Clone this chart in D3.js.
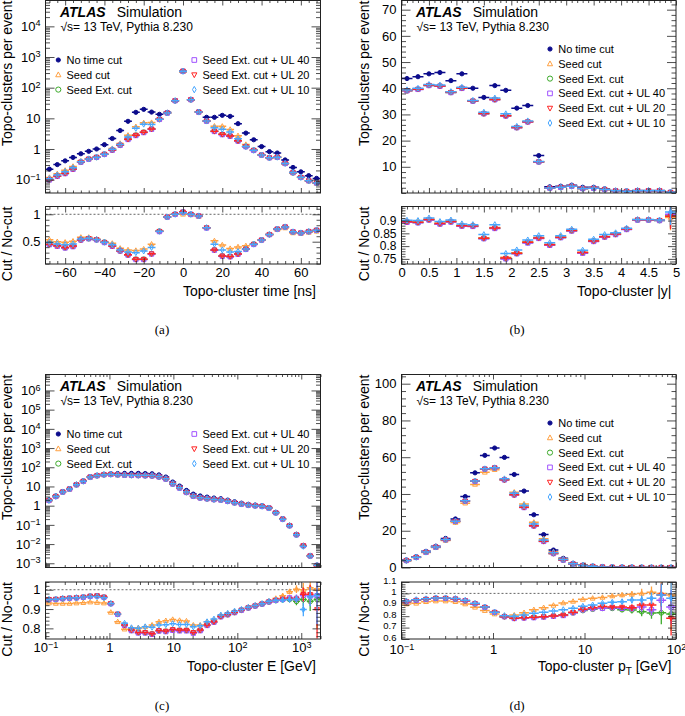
<!DOCTYPE html>
<html><head><meta charset="utf-8">
<script src="https://cdn.jsdelivr.net/npm/d3@7"></script>
<style>
body{margin:0;background:#fff;}
svg text{font-family:"Liberation Sans",Arial,Helvetica,sans-serif;}
svg text.caption{font-family:"Liberation Serif","Times New Roman",serif;}
</style></head><body>
<svg id="chart" width="685" height="716"></svg>
<script>
// ---------------- data ----------------
const seriesNames = ["No time cut","Seed cut","Seed Ext. cut","Seed Ext. cut + UL 40","Seed Ext. cut + UL 20","Seed Ext. cut + UL 10"];

// (a) topo-cluster time, 4 ns bins from -70 to 70
const timeNoCut = [0.22,0.31,0.41,0.53,0.7,0.84,1.0,1.38,2.2,4.0,8.0,15.7,19.6,16.0,13.5,15.7,37.7,333,40.7,16.5,10.8,10.8,12.5,11.6,6.7,3.3,2.0,1.2,0.82,0.74,0.44,0.25,0.18,0.135,0.11];
const timeSeed = [0.535,0.50,0.49,0.51,0.58,0.58,0.55,0.50,0.47,0.38,0.35,0.34,0.365,0.455,0.70,0.95,1.0,1.0,0.99,0.96,0.755,0.515,0.44,0.375,0.405,0.425,0.46,0.53,0.63,0.72,0.75,0.66,0.65,0.67,0.69];
const timeExt = [0.45,0.42,0.39,0.415,0.53,0.555,0.535,0.49,0.42,0.33,0.26,0.18,0.18,0.28,0.69,0.95,1.0,1.04,1.0,0.97,0.755,0.35,0.24,0.23,0.275,0.365,0.455,0.53,0.63,0.73,0.77,0.68,0.66,0.685,0.71];
const timeUL40 = [0.445,0.415,0.385,0.41,0.53,0.555,0.535,0.485,0.415,0.33,0.255,0.175,0.175,0.275,0.685,0.95,1.0,1.04,1.0,0.97,0.75,0.345,0.235,0.225,0.27,0.36,0.45,0.53,0.63,0.73,0.77,0.68,0.66,0.685,0.71];
const timeUL20 = [0.455,0.425,0.395,0.42,0.535,0.56,0.54,0.49,0.42,0.335,0.26,0.18,0.18,0.28,0.69,0.95,1.0,1.04,1.0,0.97,0.755,0.35,0.24,0.23,0.275,0.365,0.455,0.53,0.63,0.73,0.77,0.68,0.66,0.685,0.71];
const timeUL10 = [0.486,0.46,0.445,0.46,0.55,0.565,0.54,0.49,0.445,0.35,0.31,0.30,0.33,0.395,0.69,0.95,1.0,1.03,1.0,0.97,0.755,0.455,0.35,0.31,0.32,0.365,0.455,0.53,0.63,0.73,0.77,0.68,0.66,0.685,0.71];

// (b) topo-cluster |y|, 0.2 bins from 0 to 5
const rapNoCut = [43.7,44.4,45.5,46.0,42.9,45.5,40.0,36.5,41.0,39.2,32.4,33.4,14.3,2.35,2.6,3.0,2.2,2.2,1.6,1.0,0.75,1.0,1.0,1.0,0.3];
const rapSeed = [0.897,0.895,0.905,0.890,0.898,0.882,0.881,0.833,0.873,0.756,0.774,0.817,0.834,0.807,0.836,0.862,0.776,0.821,0.838,0.848,0.868,0.904,0.903,0.902,0.912];
const rapExt  = [0.894,0.892,0.903,0.887,0.895,0.879,0.878,0.830,0.870,0.752,0.771,0.814,0.831,0.804,0.834,0.860,0.774,0.819,0.836,0.846,0.866,0.902,0.902,0.900,0.922];
const rapUL40 = [0.893,0.891,0.902,0.886,0.894,0.878,0.877,0.829,0.869,0.750,0.770,0.812,0.830,0.803,0.833,0.859,0.772,0.818,0.835,0.845,0.865,0.902,0.902,0.900,0.925];
const rapUL20 = [0.895,0.893,0.904,0.888,0.896,0.880,0.879,0.831,0.871,0.753,0.772,0.815,0.832,0.805,0.835,0.861,0.775,0.820,0.837,0.847,0.867,0.903,0.903,0.901,0.917];
const rapUL10 = [0.901,0.900,0.910,0.896,0.902,0.887,0.884,0.845,0.884,0.771,0.785,0.824,0.841,0.813,0.841,0.866,0.784,0.827,0.845,0.852,0.870,0.904,0.904,0.902,0.933];
const rapErr  = [0.004,0.004,0.004,0.004,0.004,0.004,0.004,0.004,0.004,0.004,0.004,0.004,0.004,0.004,0.004,0.004,0.004,0.004,0.004,0.004,0.004,0.004,0.004,0.006,0.05];

// (c) topo-cluster E, 40 log bins from 0.1 to 2000 GeV
const eNoCut = [1.98,3.2,5.4,7.7,12.9,19.4,32,38,43,46,47,48,48,48,47,46,40,31,17,10.5,6.2,4.0,3.2,2.8,2.5,2.3,1.95,1.6,1.35,1.18,1.08,1.0,0.8,0.45,0.21,0.095,0.032,0.0085,0.0025,0.0008];
const eSeed = [0.931,0.929,0.929,0.929,0.931,0.933,0.936,0.934,0.931,0.883,0.834,0.796,0.800,0.803,0.808,0.817,0.834,0.840,0.846,0.841,0.838,0.817,0.817,0.834,0.843,0.865,0.875,0.886,0.897,0.909,0.919,0.929,0.941,0.955,0.969,0.990,1.003,1.000,1.010,1.005];
const eExt  = [0.949,0.950,0.954,0.956,0.958,0.961,0.966,0.968,0.961,0.928,0.873,0.816,0.790,0.778,0.778,0.771,0.788,0.785,0.793,0.790,0.790,0.778,0.790,0.816,0.833,0.861,0.871,0.882,0.894,0.906,0.916,0.926,0.937,0.944,0.948,0.950,0.940,0.950,0.940,0.950];
const eUL40 = [0.949,0.950,0.954,0.956,0.958,0.961,0.966,0.968,0.961,0.928,0.873,0.815,0.788,0.776,0.776,0.769,0.786,0.783,0.790,0.787,0.787,0.775,0.788,0.815,0.832,0.860,0.871,0.882,0.894,0.906,0.916,0.926,0.937,0.945,0.950,0.958,0.955,0.972,0.967,0.969];
const eUL20 = [0.950,0.951,0.955,0.957,0.959,0.962,0.967,0.969,0.962,0.929,0.874,0.817,0.791,0.779,0.779,0.772,0.789,0.786,0.794,0.791,0.791,0.779,0.791,0.817,0.834,0.862,0.872,0.883,0.895,0.907,0.917,0.927,0.938,0.946,0.952,0.952,0.952,0.976,0.976,0.898];
const eUL10 = [0.950,0.951,0.955,0.957,0.959,0.962,0.965,0.965,0.958,0.929,0.874,0.826,0.803,0.800,0.808,0.806,0.817,0.819,0.824,0.820,0.820,0.808,0.813,0.834,0.848,0.869,0.878,0.889,0.898,0.909,0.919,0.928,0.940,0.946,0.947,0.950,0.952,0.898,0.964,0.972];
const eErr  = [0.003,0.003,0.003,0.003,0.003,0.003,0.003,0.003,0.003,0.003,0.003,0.003,0.003,0.003,0.003,0.003,0.003,0.003,0.003,0.003,0.003,0.003,0.003,0.003,0.003,0.003,0.003,0.003,0.003,0.003,0.004,0.005,0.006,0.008,0.010,0.015,0.020,0.035,0.050,0.150];

// (d) topo-cluster pT, 28 log bins from 0.1 to 100 GeV
const ptNoCut = [4.1,5.9,8.8,11.6,15.8,26.4,38.6,51.5,61.0,65.0,59.9,50.6,41.6,28.7,17.9,9.5,5.0,2.3,1.3,0.7,0.35,0.2,0.1,0.07,0.04,0.02,0.012,0.007];
const ptSeed = [0.907,0.913,0.927,0.933,0.933,0.927,0.907,0.878,0.849,0.819,0.805,0.810,0.831,0.857,0.875,0.895,0.916,0.930,0.948,0.957,0.965,0.977,0.986,0.992,1.000,1.010,1.000,0.986];
const ptExt  = [0.927,0.939,0.948,0.957,0.957,0.951,0.936,0.910,0.878,0.834,0.796,0.781,0.787,0.790,0.796,0.802,0.810,0.830,0.850,0.862,0.869,0.869,0.857,0.854,0.840,0.828,0.830,0.820];
const ptUL40 = [0.927,0.939,0.948,0.957,0.957,0.951,0.936,0.910,0.878,0.834,0.796,0.780,0.784,0.787,0.792,0.799,0.806,0.830,0.855,0.866,0.869,0.875,0.869,0.869,0.880,0.857,0.940,0.880];
const ptUL20 = [0.927,0.939,0.948,0.957,0.957,0.951,0.936,0.910,0.878,0.834,0.796,0.781,0.787,0.790,0.796,0.802,0.810,0.834,0.860,0.875,0.884,0.880,0.880,0.875,0.898,0.898,0.986,0.781];
const ptUL10 = [0.933,0.945,0.952,0.960,0.960,0.955,0.940,0.913,0.880,0.834,0.805,0.799,0.810,0.825,0.834,0.846,0.857,0.869,0.887,0.898,0.913,0.922,0.927,0.942,0.942,0.957,0.986,0.957];
const ptErr  = [0.003,0.003,0.003,0.003,0.003,0.003,0.003,0.003,0.003,0.003,0.003,0.003,0.003,0.003,0.003,0.003,0.003,0.005,0.006,0.008,0.010,0.015,0.020,0.030,0.040,0.050,0.100,0.150];

// tick labels
const timeTicks = [-60,-40,-20,0,20,40,60];
const rapTicks = [0,0.5,1,1.5,2,2.5,3,3.5,4,4.5,5];
const rapMainTicks = [10,20,30,40,50,60,70];
const rapRatioTicks = [0.75,0.8,0.85,0.9];
const timeRatioTicks = [0.5,1];
const eRatioTicks = [0.8,0.9,1];
const ptMainTicks = [0,20,40,60,80,100];
const ptRatioTicks = [0.6,0.7,0.8,0.9,1,1.1];

// ---------------- style ----------------
const seriesColors = ["#0b0b8c","#ffa040","#3caa2a","#a052ff","#ff2424","#46a6ff"];
const seriesSymbols = ["dot","tri","circ","sq","tridown","diam"];
const FONT = '"Liberation Sans", Arial, Helvetica, sans-serif';
const svg = d3.select("#chart");
const defs = svg.append("defs");

function symPath(type, r){
  switch(type){
    case "dot": case "circ": return d3.symbol(d3.symbolCircle, Math.PI*r*r)();
    case "tri": return `M0,${-r*1.1}L${r},${r*0.75}L${-r},${r*0.75}Z`;
    case "tridown": return `M0,${r*1.1}L${r},${-r*0.75}L${-r},${-r*0.75}Z`;
    case "sq": return `M${-r*0.9},${-r*0.9}h${1.8*r}v${1.8*r}h${-1.8*r}Z`;
    case "diam": return `M0,${-r*1.25}L${r*0.7},0L0,${r*1.25}L${-r*0.7},0Z`;
  }
}
function linTicks(lo,hi,step){ const out=[]; const n0=Math.ceil(lo/step-1e-9), n1=Math.floor(hi/step+1e-9); for(let n=n0;n<=n1;n++) out.push(+(n*step).toFixed(6)); return out; }
function minorsLin(lo,hi,step,majors){ return linTicks(lo,hi,step).filter(v=>!majors.some(m=>Math.abs(m-v)<step*0.01)); }
function logMajors(lo,hi){ const out=[]; for(let e=Math.ceil(Math.log10(lo)-1e-9); e<=Math.floor(Math.log10(hi)+1e-9); e++) out.push(Math.pow(10,e)); return out; }
function logMinors(lo,hi){ const out=[]; for(let e=Math.floor(Math.log10(lo)); e<=Math.ceil(Math.log10(hi)); e++) for(let m=2;m<=9;m++){ const v=m*Math.pow(10,e); if(v>=lo&&v<=hi) out.push(v);} return out; }
function logLabels(sel){
  sel.selectAll(".tick text").each(function(d){
    const e=Math.round(Math.log10(d)); const t=d3.select(this); t.text(null);
    if(e===0){ t.text("1"); return; }
    if(e===1){ t.text("10"); return; }
    t.append("tspan").text("10");
    t.append("tspan").attr("dy","-0.5em").attr("font-size","0.7em").text(e<0?"\u2212"+(-e):String(e));
  });
}
function sty(sel){
  sel.select(".domain").remove();
  sel.selectAll("line").attr("stroke","#222").attr("stroke-width",0.8);
  sel.attr("font-size",13).attr("font-family",FONT);
  sel.selectAll("text").attr("fill","#000");
}
function drawAxes(g, x, y, o){
  const [xa,xb]=x.range(); const [yb,ya]=y.range();
  const none=()=> "";
  const b=g.append("g").attr("transform",`translate(0,${yb})`).call(d3.axisBottom(x).tickValues(o.xMaj).tickSize(-o.xT[0]).tickPadding(o.xPad||4).tickFormat(o.xFmt||none)).call(sty);
  if(o.xLogLab) logLabels(b);
  g.append("g").attr("transform",`translate(0,${yb})`).call(d3.axisBottom(x).tickValues(o.xMin).tickSize(-o.xT[1]).tickFormat(none)).call(sty);
  g.append("g").attr("transform",`translate(0,${ya})`).call(d3.axisTop(x).tickValues(o.xMaj).tickSize(-o.xT[0]).tickFormat(none)).call(sty);
  g.append("g").attr("transform",`translate(0,${ya})`).call(d3.axisTop(x).tickValues(o.xMin).tickSize(-o.xT[1]).tickFormat(none)).call(sty);
  const l=g.append("g").attr("transform",`translate(${xa},0)`).call(d3.axisLeft(y).tickValues(o.yMaj).tickSize(-o.yT[0]).tickPadding(5).tickFormat(o.yFmt)).call(sty);
  if(o.yLabSize) l.attr("font-size",o.yLabSize);
  if(o.yLabDy) l.selectAll(".tick text").attr("dy",o.yLabDy);
  if(o.yLogLab) logLabels(l);
  g.append("g").attr("transform",`translate(${xa},0)`).call(d3.axisLeft(y).tickValues(o.yMin).tickSize(-o.yT[1]).tickFormat(none)).call(sty);
  g.append("g").attr("transform",`translate(${xb},0)`).call(d3.axisRight(y).tickValues(o.yMaj).tickSize(-o.yT[0]).tickFormat(none)).call(sty);
  g.append("g").attr("transform",`translate(${xb},0)`).call(d3.axisRight(y).tickValues(o.yMin).tickSize(-o.yT[1]).tickFormat(none)).call(sty);
  g.append("rect").attr("x",xa).attr("y",ya).attr("width",xb-xa).attr("height",yb-ya).attr("fill","none").attr("stroke","#222").attr("stroke-width",1);
}

function drawPanel(P){
  const g = svg.append("g");
  const x = (P.xLog? d3.scaleLog(): d3.scaleLinear()).domain(P.xDom).range([P.x0,P.x1]);
  const yM = (P.yLog? d3.scaleLog(): d3.scaleLinear()).domain(P.yDom).range([P.mBot,P.mTop]);
  const yR = d3.scaleLinear().domain(P.rDom).range([P.rBot,P.rTop]);
  const center = i => P.xLog ? Math.sqrt(P.edges[i]*P.edges[i+1]) : (P.edges[i]+P.edges[i+1])/2;
  defs.append("clipPath").attr("id",P.id+"m").append("rect").attr("x",P.x0).attr("y",P.mTop).attr("width",P.x1-P.x0).attr("height",P.mBot-P.mTop);
  defs.append("clipPath").attr("id",P.id+"r").append("rect").attr("x",P.x0).attr("y",P.rTop).attr("width",P.x1-P.x0).attr("height",P.rBot-P.rTop);

  if(P.rDom[0]<1 && P.rDom[1]>1){
    g.append("line").attr("x1",P.x0).attr("x2",P.x1).attr("y1",yR(1)).attr("y2",yR(1))
      .attr("stroke","#555").attr("stroke-width",0.9).attr("stroke-dasharray","2,2");
  }
  const gm = g.append("g").attr("clip-path",`url(#${P.id}m)`);
  const gr = g.append("g").attr("clip-path",`url(#${P.id}r)`);
  function plot(target, y, pts, s){
    const c = seriesColors[s];
    const gg = target.append("g");
    gg.selectAll("line.h").data(pts).join("line").attr("class","h")
      .attr("x1",d=>x(P.edges[d.i])).attr("x2",d=>x(P.edges[d.i+1]))
      .attr("y1",d=>y(d.v)).attr("y2",d=>y(d.v)).attr("stroke",c).attr("stroke-width",1.5);
    gg.selectAll("line.v").data(pts.filter(d=>d.e>0.004)).join("line").attr("class","v")
      .attr("x1",d=>x(center(d.i))).attr("x2",d=>x(center(d.i)))
      .attr("y1",d=>y(d.v-d.e)).attr("y2",d=>y(d.v+d.e)).attr("stroke",c).attr("stroke-width",1.3);
    gg.selectAll("path.m").data(pts).join("path").attr("class","m")
      .attr("transform",d=>`translate(${x(center(d.i))},${y(d.v)})`)
      .attr("d",symPath(seriesSymbols[s], s===0?2.1:2.4))
      .attr("fill", s===0? c : "none").attr("stroke",c).attr("stroke-width",1);
  }
  plot(gm, yM, P.noCut.map((v,i)=>({i,v,e:0})), 0);
  P.ratios.forEach((r,k)=>{
    plot(gm, yM, r.map((rv,i)=>({i, v:P.noCut[i]*rv, e:0})), k+1);
  });
  P.ratios.forEach((r,k)=>{
    plot(gr, yR, r.map((rv,i)=>({i, v:rv, e:P.err? P.err[i]:0})), k+1);
  });

  // axes main
  const xMaj = P.xLog ? logMajors(P.xDom[0],P.xDom[1]) : P.xTicks;
  const xMin = P.xLog ? logMinors(P.xDom[0],P.xDom[1]) : minorsLin(P.xDom[0],P.xDom[1],P.xMinStep,P.xTicks);
  drawAxes(g, x, yM, {
    xMaj, xMin, xT:[5,2.5],
    yMaj: P.yLog ? logMajors(P.yDom[0],P.yDom[1]) : P.yTicks,
    yMin: P.yLog ? logMinors(P.yDom[0],P.yDom[1]) : minorsLin(P.yDom[0],P.yDom[1],P.yMinStep,P.yTicks),
    yT:[9,4.5], yFmt: d=>String(d), yLogLab: P.yLog
  });
  drawAxes(g, x, yR, {
    xMaj, xMin, xT:[6,3], xPad:P.xPad, xFmt: P.xLog ? (d=>String(d)) : (d=>d3.format("")(d).replace("-","\u2212")), xLogLab: P.xLog,
    yMaj: P.rTicks, yMin: minorsLin(P.rDom[0],P.rDom[1],P.rMinStep,P.rTicks), yT:[8,4],
    yFmt: d=>String(+d.toFixed(2)), yLabSize: P.rLabSize, yLabDy: P.rLabDy
  });

  // titles
  const yt = P.x0 - P.yTitleOff;
  g.append("text").attr("transform",`translate(${yt},${P.mTop}) rotate(-90)`).attr("text-anchor","end")
    .attr("font-size",14).text("Topo-clusters per event");
  g.append("text").attr("transform",`translate(${yt},${P.rTop}) rotate(-90)`).attr("text-anchor","end")
    .attr("font-size",14).text("Cut / No-cut");
  const xt = g.append("text").attr("x",P.x1-4.5).attr("y",P.rBot+32).attr("text-anchor","end").attr("font-size",14);
  if(P.xTitleSub){
    xt.append("tspan").text(P.xTitle);
    xt.append("tspan").attr("font-size",10).attr("dy",4).text(P.xTitleSub);
    xt.append("tspan").attr("dy",-4).text(P.xTitleEnd);
  } else xt.text(P.xTitle);

  // ATLAS label
  g.append("text").attr("x",P.x0+14.5).attr("y",P.mTop+16).attr("font-size",14).attr("font-weight","bold").attr("font-style","italic").text("ATLAS");
  g.append("text").attr("x",P.x0+71.2).attr("y",P.mTop+16).attr("font-size",14).text("Simulation");
  g.append("text").attr("x",P.x0+15).attr("y",P.mTop+30.5).attr("font-size",12).text("\u221As= 13 TeV, Pythia 8.230");

  // legend
  seriesNames.forEach((name,s)=>{
    let mx, cy;
    if(P.legend==="two"){
      const col = s<3?0:1, row = s%3;
      mx = P.x0 + (col===0?12.8:148.8);
      cy = P.mTop + 59.5 + row*14.8;
    } else {
      mx = P.x0 + 148.5;
      cy = P.mTop + 48.5 + s*14.8;
    }
    const c = seriesColors[s];
    g.append("path").attr("transform",`translate(${mx},${cy})`).attr("d",symPath(seriesSymbols[s], s===0?2.1:2.6))
      .attr("fill", s===0?c:"none").attr("stroke",c).attr("stroke-width",1);
    g.append("text").attr("x",mx+8.2).attr("y",cy+4).attr("font-size",11).text(name);
  });

  // caption
  g.append("text").attr("class","caption").attr("x",P.capX).attr("y",P.capY).attr("text-anchor","middle")
    .attr("font-size",13).text(P.caption);
}

const timeEdges = d3.range(36).map(i=>-70+4*i);
const rapEdges = d3.range(26).map(i=>+(0.2*i).toFixed(2));
const eEdges = d3.range(41).map(i=>0.1*Math.pow(20000,i/40));
const ptEdges = d3.range(29).map(i=>0.1*Math.pow(1000,i/28));

const row1 = {mTop:0.5, mBot:193, rTop:206.5, rBot:264, capY:334};
const row2 = {mTop:374.5, mBot:567.5, rTop:582, rBot:639, capY:710};
const colL = {x0:45.5, x1:320.5, yTitleOff:34, capX:162, legend:"two"};
const colR = {x0:401.5, x1:676, yTitleOff:32.5, capX:517, legend:"one"};

drawPanel(Object.assign({}, row1, colL, {
  id:"pa", caption:"(a)", edges:timeEdges, xLog:false, xDom:[-70,70], xTicks:timeTicks, xMinStep:4,
  yLog:true, yDom:[0.0367,69700], rDom:[0.093,1.142], rTicks:timeRatioTicks, rMinStep:0.1,
  noCut:timeNoCut, ratios:[timeSeed,timeExt,timeUL40,timeUL20,timeUL10], err:null,
  xTitle:"Topo-cluster time [ns]"
}));
drawPanel(Object.assign({}, row1, colR, {
  id:"pb", caption:"(b)", edges:rapEdges, xLog:false, xDom:[0,5], xTicks:rapTicks, xMinStep:0.1,
  yLog:false, yDom:[0,73.5], yTicks:rapMainTicks, yMinStep:2, rDom:[0.730,0.955], rTicks:rapRatioTicks, rMinStep:0.01, rLabSize:12,
  noCut:rapNoCut, ratios:[rapSeed,rapExt,rapUL40,rapUL20,rapUL10], err:rapErr,
  xTitle:"Topo-cluster |y|"
}));
drawPanel(Object.assign({}, row2, colL, {
  id:"pc", caption:"(c)", edges:eEdges, xLog:true, xDom:[0.1,2000],
  yLog:true, yDom:[Math.pow(10,-3.22),Math.pow(10,6.83)], rDom:[0.745,1.04], rTicks:eRatioTicks, rMinStep:0.02,
  noCut:eNoCut, ratios:[eSeed,eExt,eUL40,eUL20,eUL10], err:eErr,
  xTitle:"Topo-cluster E [GeV]"
}));
drawPanel(Object.assign({}, row2, colR, {
  id:"pd", caption:"(d)", edges:ptEdges, xLog:true, xDom:[0.1,100],
  yLog:false, yDom:[0,105], yTicks:ptMainTicks, yMinStep:4, rDom:[0.6,1.1], rTicks:ptRatioTicks, rMinStep:0.02,
  rLabSize:9.5, rLabDy:"0.12em", xPad:6,
  noCut:ptNoCut, ratios:[ptSeed,ptExt,ptUL40,ptUL20,ptUL10], err:ptErr,
  xTitle:"Topo-cluster p", xTitleSub:"T", xTitleEnd:" [GeV]"
}));
</script>
</body></html>
